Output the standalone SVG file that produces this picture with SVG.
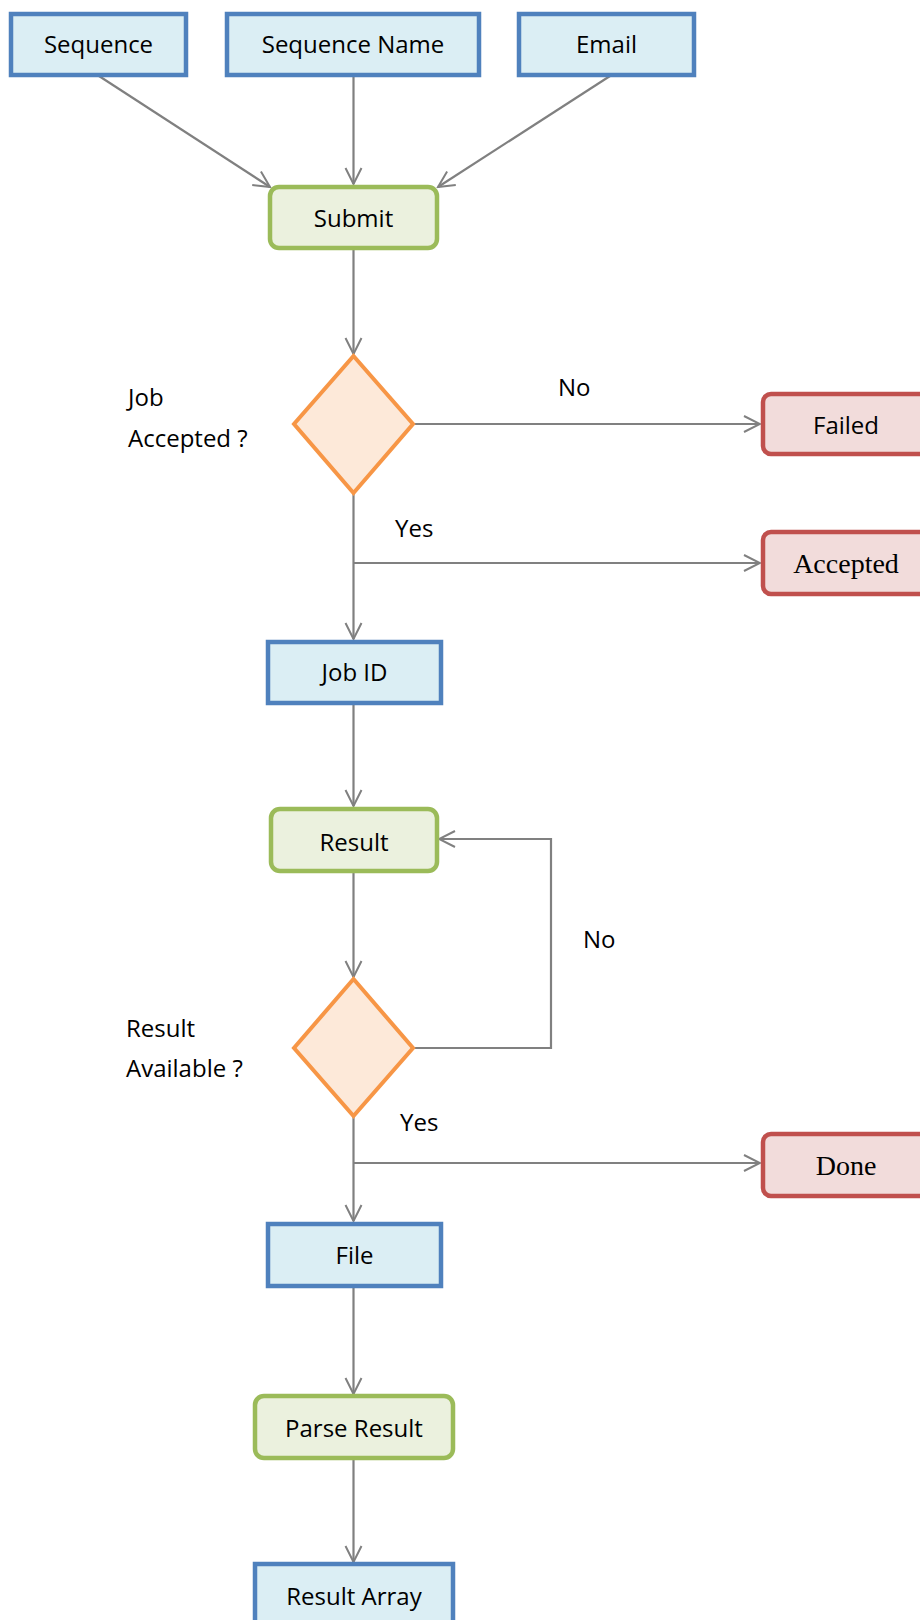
<svg xmlns="http://www.w3.org/2000/svg" width="920" height="1620" viewBox="0 0 920 1620">
<defs>
<marker id="arr" viewBox="0 0 20 20" refX="18" refY="10" markerWidth="20" markerHeight="20" markerUnits="userSpaceOnUse" orient="auto">
<path d="M2,2 L18,10 L2,18" fill="none" stroke="#808080" stroke-width="2"/>
</marker>
<style>
.blue{fill:#DBEEF4;stroke:#4F81BD;stroke-width:4.5}
.green{fill:#EBF1DE;stroke:#9BBB59;stroke-width:4.5}
.orange{fill:#FDE9D9;stroke:#F79646;stroke-width:4}
.red{fill:#F2DCDB;stroke:#C0504D;stroke-width:4.5}
.t{font-family:"Open Sans","Liberation Sans",sans-serif;font-size:24px;fill:#000;text-anchor:middle}
.s{font-family:"Liberation Serif",serif;font-size:28px;fill:#000;text-anchor:middle}
.l{font-family:"Open Sans","Liberation Sans",sans-serif;font-size:24px;fill:#000}
.c{fill:none;stroke:#808080;stroke-width:2.2}
</style>
</defs>
<rect width="920" height="1620" fill="#fff"/>
<g id="connectors">
<line class="c" x1="99" y1="76" x2="270" y2="187" marker-end="url(#arr)"/>
<line class="c" x1="353.5" y1="76" x2="353.5" y2="184" marker-end="url(#arr)"/>
<line class="c" x1="610" y1="76" x2="438" y2="187" marker-end="url(#arr)"/>
<line class="c" x1="353.5" y1="248" x2="353.5" y2="354" marker-end="url(#arr)"/>
<line class="c" x1="413" y1="424" x2="760" y2="424" marker-end="url(#arr)"/>
<line class="c" x1="353.5" y1="494" x2="353.5" y2="639" marker-end="url(#arr)"/>
<line class="c" x1="353.5" y1="563" x2="760" y2="563" marker-end="url(#arr)"/>
<line class="c" x1="353.5" y1="703" x2="353.5" y2="806" marker-end="url(#arr)"/>
<polyline class="c" points="413,1048 551,1048 551,839 439,839" marker-end="url(#arr)"/>
<line class="c" x1="353.5" y1="871" x2="353.5" y2="977" marker-end="url(#arr)"/>
<line class="c" x1="353.5" y1="1117" x2="353.5" y2="1221" marker-end="url(#arr)"/>
<line class="c" x1="353.5" y1="1163" x2="760" y2="1163" marker-end="url(#arr)"/>
<line class="c" x1="353.5" y1="1286" x2="353.5" y2="1394" marker-end="url(#arr)"/>
<line class="c" x1="353.5" y1="1458" x2="353.5" y2="1562" marker-end="url(#arr)"/>
</g>
<g id="sequence"><rect class="blue" x="11" y="14" width="175" height="61"/><text class="t" x="98.5" y="53">Sequence</text></g>
<g id="sequence-name"><rect class="blue" x="227" y="14" width="252" height="61"/><text class="t" x="353" y="53">Sequence Name</text></g>
<g id="email"><rect class="blue" x="519" y="14" width="175" height="61"/><text class="t" x="606.5" y="53">Email</text></g>
<g id="submit"><rect class="green" x="270" y="187" width="167" height="61" rx="9"/><text class="t" x="353.5" y="227">Submit</text></g>
<g id="job-accepted"><polygon class="orange" points="353.5,356 413,424 353.5,493 294,424"/>
<text class="l" x="128" y="406">Job</text><text class="l" x="128" y="447">Accepted ?</text></g>
<text class="l" x="558" y="396">No</text>
<text class="l" x="395" y="537">Yes</text>
<g id="failed"><rect class="red" x="763" y="394" width="170" height="60" rx="8"/><text class="t" x="846" y="434">Failed</text></g>
<g id="accepted"><rect class="red" x="763" y="532" width="170" height="62" rx="8"/><text class="s" x="846" y="573">Accepted</text></g>
<g id="job-id"><rect class="blue" x="268" y="642" width="173" height="61"/><text class="t" x="354.5" y="681">Job ID</text></g>
<g id="result"><rect class="green" x="271" y="809" width="166" height="62" rx="9"/><text class="t" x="354" y="851">Result</text></g>
<text class="l" x="583" y="948">No</text>
<g id="result-available"><polygon class="orange" points="353.5,979 413,1048 353.5,1116 294,1048"/>
<text class="l" x="126" y="1037">Result</text><text class="l" x="126" y="1077">Available ?</text></g>
<text class="l" x="400" y="1131">Yes</text>
<g id="done"><rect class="red" x="763" y="1134" width="170" height="62" rx="8"/><text class="s" x="846" y="1175">Done</text></g>
<g id="file"><rect class="blue" x="268" y="1224" width="173" height="62"/><text class="t" x="354.5" y="1264">File</text></g>
<g id="parse-result"><rect class="green" x="255" y="1396" width="198" height="62" rx="9"/><text class="t" x="354" y="1437">Parse Result</text></g>
<g id="result-array"><rect class="blue" x="255" y="1564" width="198" height="70"/><text class="t" x="354" y="1605">Result Array</text></g>
</svg>
